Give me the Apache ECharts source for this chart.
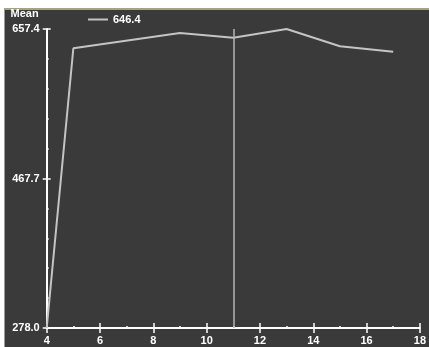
<!DOCTYPE html>
<html><head><meta charset="utf-8">
<script src="https://cdn.jsdelivr.net/npm/echarts@6/dist/echarts.min.js"></script>
<style>
html,body{margin:0;padding:0;background:#fff;width:429px;height:347px;overflow:hidden}
#bg{position:absolute;left:4px;top:8px;width:425px;height:339px;background:#3a3a3a;border-top:2px solid #a3a386;border-left:1px solid #9a9a9a;box-sizing:border-box}
#c{position:absolute;left:0;top:0;width:429px;height:347px}
</style></head><body>
<div id="bg"></div><div id="c"></div>
<script>
const xValues = [4, 5, 9, 11, 13, 15, 17];
const meanValues = [278.0, 633.0, 652.3, 646.4, 657.4, 635.5, 628.6];
const yLabelValues = [278.0, 467.7, 657.4];
const yMinorValues = [315.94, 353.88, 391.82, 429.76, 505.64, 543.58, 581.52, 619.46];
const cursorX = 11;
const seriesName = '646.4';
const yName = 'Mean';

const font = {color:'#ffffff', fontFamily:'Liberation Sans, Arial, sans-serif', fontWeight:'bold', fontSize:11};
const chart = echarts.init(document.getElementById('c'), null, {renderer:'canvas'});
const grid = {left:46.7, right:9, top:29, bottom:19};
chart.setOption({
  backgroundColor:'transparent',
  animation:false,
  grid: grid,
  legend:{
    left:83, top:9, itemWidth:20, itemHeight:2, itemGap:4,
    data:[{name:seriesName, icon:'rect'}],
    textStyle:Object.assign({}, font, {fontSize:11}),
    selectedMode:false
  },
  xAxis:[
    {type:'value', min:4, max:18, interval:2,
     axisLine:{show:true, onZero:false, lineStyle:{color:'#fff', width:2}},
     axisTick:{show:true, length:5, lineStyle:{color:'#fff', width:1.5}},
     axisLabel:Object.assign({margin:7}, font),
     splitLine:{show:false}},
    {type:'value', min:4, max:18, interval:2, position:'bottom',
     axisLine:{show:false, onZero:false},
     axisTick:{show:true, inside:true, length:5, lineStyle:{color:'#fff', width:1.5}},
     minorTick:{show:true, splitNumber:2, length:2, lineStyle:{color:'#fff', width:1.5}},
     axisLabel:{show:false}, splitLine:{show:false}}
  ],
  yAxis:[
    {type:'value', min:278.0, max:657.4, position:'left',
     name:yName, nameLocation:'end', nameGap:10,
     nameTextStyle:Object.assign({align:'right', padding:[0,8,0,0]}, font),
     axisLine:{show:true, onZero:false, lineStyle:{color:'#fff', width:2}},
     axisTick:{show:true, length:4, customValues:yLabelValues, lineStyle:{color:'#fff', width:1.5}},
     axisLabel:Object.assign({margin:7, customValues:yLabelValues, formatter:v=>v.toFixed(1)}, font),
     splitLine:{show:false}},
    {type:'value', min:278.0, max:657.4, position:'left',
     axisLine:{show:false, onZero:false},
     axisTick:{show:true, inside:true, length:4, customValues:yLabelValues, lineStyle:{color:'#fff', width:1.5}},
     axisLabel:{show:false}, splitLine:{show:false}},
    {type:'value', min:278.0, max:657.4, position:'left',
     axisLine:{show:false, onZero:false},
     axisTick:{show:true, inside:true, length:2, customValues:yMinorValues, lineStyle:{color:'#fff', width:1.5}},
     axisLabel:{show:false}, splitLine:{show:false}}
  ],
  series:[{
    name:seriesName, type:'line', xAxisIndex:0, yAxisIndex:0,
    data:xValues.map((x,i)=>[x, meanValues[i]]),
    symbol:'none', color:'#c4c4c4',
    lineStyle:{color:'#c4c4c4', width:2},
    markLine:{silent:true, symbol:'none', label:{show:false},
      lineStyle:{color:'#b4b4b4', width:1.5, type:'solid'},
      data:[{xAxis:cursorX}]}
  }]
});
</script></body></html>
